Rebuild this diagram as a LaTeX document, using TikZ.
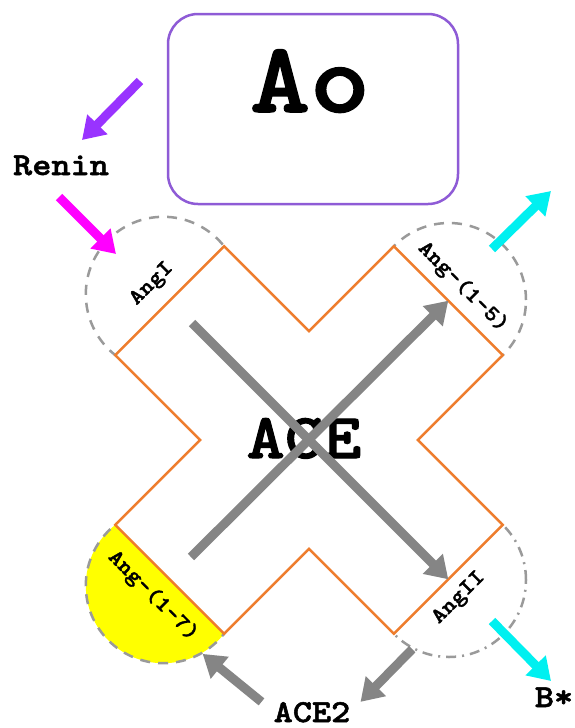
\documentclass[tikz,border=0pt]{standalone}
\usepackage{fontspec}
\newfontfamily\diagfont{lmmonolt10-bold.otf}[FakeStretch=1.14, FakeBold=1.6]
\newcommand\setfs[1]{\fontsize{#1pt}{#1pt}\selectfont}
\usetikzlibrary{arrows.meta}
\definecolor{aoline}{HTML}{8E5BD6}
\definecolor{crossline}{HTML}{EE7D2D}
\definecolor{ringline}{HTML}{9A9A9A}
\definecolor{shaft}{HTML}{858585}
\definecolor{reninc}{HTML}{9933FF}
\definecolor{hot}{HTML}{FF00FF}
\definecolor{outflow}{HTML}{00F0F0}
\definecolor{ang17}{HTML}{FFFF00}
\tikzset{
  box/.style={draw=aoline, line width=2.5pt, rounded corners=30pt, fill=white, minimum width=290pt, minimum height=190pt},
  ring/.style={circle, draw=ringline, line width=2.5pt, dash pattern=on 10pt off 8pt, inner sep=0pt, minimum size=155pt},
  cross/.style={draw=crossline, line width=2.5pt, fill=white, line join=miter},
  tag/.style={font=\diagfont\setfs{22}, inner sep=0pt, text=black},
  word/.style={font=\diagfont\setfs{32}, inner sep=0pt, text=black, anchor=base},
  title/.style={font=\diagfont\setfs{100}, inner sep=0pt, text=black, anchor=base},
  enzyme/.style={font=\diagfont\setfs{64}, inner sep=0pt, text=black, anchor=base},
  flow/.style={-{Triangle[length=22pt,width=27pt]}, line width=9pt},
  pathway/.style={flow, draw=shaft},
}
\begin{document}
\begin{tikzpicture}[x=1pt, y=-1pt]
\path[use as bounding box, fill=white] (0,0) rectangle (574,728);
% --- mid points of the four arm tips
\coordinate (tipI) at (169.7,300.7);
\coordinate (tip15) at (448.3,300.7);
\coordinate (tipII) at (448.3,579.3);
\coordinate (tip17) at (169.7,579.3);
% --- peptide rings (inner halves hidden by the cross)
\node[ring] (angI) at (163.3,294.3) {};
\node[ring, minimum size=154pt] (ang15) at (449,300) {};
\node[ring, minimum size=154pt, dash pattern=on 10pt off 6pt on 2pt off 6pt] (angII) at (449,580) {};
\node[ring, fill=ang17] (ang17) at (163.3,585.7) {};
% --- ACE cross
\draw[cross] (115.3,355.1) -- (224.1,246.3) -- (309,331.1) -- (393.9,246.3) -- (502.7,355.1) -- (417.9,440) -- (502.7,524.9) -- (393.9,633.7) -- (309,548.9) -- (224.1,633.7) -- (115.3,524.9) -- (200.1,440) -- cycle;
\node[tag, rotate=45] (angIlabel) at (152,284) {AngI};
\node[tag, rotate=-45] (ang15label) at (463,287) {Ang-(1-5)};
\node[tag, rotate=45] (angIIlabel) at (459,598) {AngII};
\node[tag, rotate=-45] (ang17label) at (153,596) {Ang-(1-7)};
\node[enzyme] (ace) at (304,458) {ACE};
% --- angiotensinogen box and the free words
\node[box] (ao) at (313,109) {};
\node[title] (aotext) at (310,112) {Ao};
\node[word] (renin) at (61,175) {Renin};
\node[word] (ace2) at (312,722) {ACE2};
\node[word] (bstar) at (554,707) {B*};
% --- arrows
\coordinate (fromI) at (192,323);
\coordinate (from17) at (191,557);
\draw[pathway] (fromI) -- (tipII);
\draw[pathway] (from17) -- (tip15);
\draw[pathway] ([xshift=-12pt]ace2.north west) -- (ang17.-60);
\draw[pathway] (angII.-118) -- ([xshift=10pt]ace2.north east);
\coordinate (aoout) at (140,81);
\coordinate (reninin) at (82,140);
\coordinate (reninout) at (59,197);
\coordinate (angIin) at (116,254);
\coordinate (out15) at (492,249);
\coordinate (tip15far) at (551,191);
\coordinate (outII) at (492,621);
\coordinate (bstarin) at (551,681);
\draw[flow, draw=reninc] (aoout) -- (reninin);
\draw[flow, draw=hot] (reninout) -- (angIin);
\draw[flow, draw=outflow] (out15) -- (tip15far);
\draw[flow, draw=outflow] (outII) -- (bstarin);
\end{tikzpicture}
\end{document}
